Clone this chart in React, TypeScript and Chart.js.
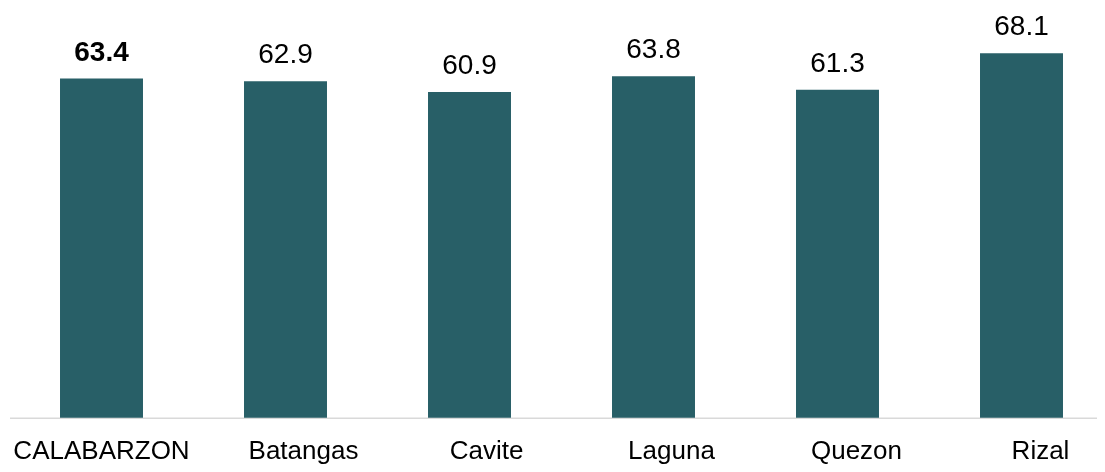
import React, { useEffect, useRef } from "react";
import { Chart, registerables } from "chart.js";

Chart.register(...registerables);

const categories = ["CALABARZON", "Batangas", "Cavite", "Laguna", "Quezon", "Rizal"];
const values = [63.4, 62.9, 60.9, 63.8, 61.3, 68.1];
const boldFlags = [true, false, false, false, false, false];

const BAR_COLOR = "#285F67";
const FONT = "'Liberation Sans', Arial, sans-serif";
const labelShift = [0, 18, 17, 18, 19, 19];

const overlayPlugin = {
  id: "overlay",
  beforeDatasetsDraw(chart: any) {
    const { ctx, chartArea } = chart;
    ctx.save();
    ctx.strokeStyle = "#D9D9D9";
    ctx.lineWidth = 1.5;
    ctx.beginPath();
    ctx.moveTo(2, chartArea.bottom + 0.5);
    ctx.lineTo(chart.width, chartArea.bottom + 0.5);
    ctx.stroke();
    ctx.restore();
  },
  afterDatasetsDraw(chart: any) {
    const { ctx, chartArea } = chart;
    const meta = chart.getDatasetMeta(0);
    const xScale = chart.scales.x;
    ctx.save();
    ctx.fillStyle = "#000000";
    ctx.textAlign = "center";
    ctx.textBaseline = "alphabetic";
    meta.data.forEach((bar: any, i: number) => {
      ctx.font = `${boldFlags[i] ? "bold " : ""}28px ${FONT}`;
      ctx.fillText(values[i].toFixed(1), bar.x, bar.y - 18);
    });
    ctx.font = `26px ${FONT}`;
    categories.forEach((c, i) => {
      const x = xScale.getPixelForValue(i) + labelShift[i];
      ctx.fillText(c, x, chartArea.bottom + 41);
    });
    ctx.restore();
  },
};

export default function App() {
  const ref = useRef<HTMLCanvasElement>(null);
  useEffect(() => {
    if (!ref.current) return;
    const chart = new Chart(ref.current, {
      type: "bar",
      data: {
        labels: categories,
        datasets: [
          {
            data: values,
            backgroundColor: BAR_COLOR,
            borderWidth: 0,
            categoryPercentage: 1,
            barPercentage: 0.451,
            clip: false as any,
          },
        ],
      },
      options: {
        animation: false,
        responsive: true,
        maintainAspectRatio: false,
        layout: { padding: { left: 93.5, right: 83.5, top: 35.2, bottom: 46.3 } },
        plugins: { legend: { display: false }, tooltip: { enabled: false } },
        scales: {
          x: {
            offset: false,
            grid: { display: false },
            border: { display: false },
            ticks: { display: false },
          },
          y: {
            display: false,
            min: 0,
            max: 70,
          },
        },
      },
      plugins: [overlayPlugin],
    });
    return () => chart.destroy();
  }, []);
  return (
    <div style={{ position: "relative", width: 1097, height: 464 }}>
      <canvas ref={ref} />
    </div>
  );
}
